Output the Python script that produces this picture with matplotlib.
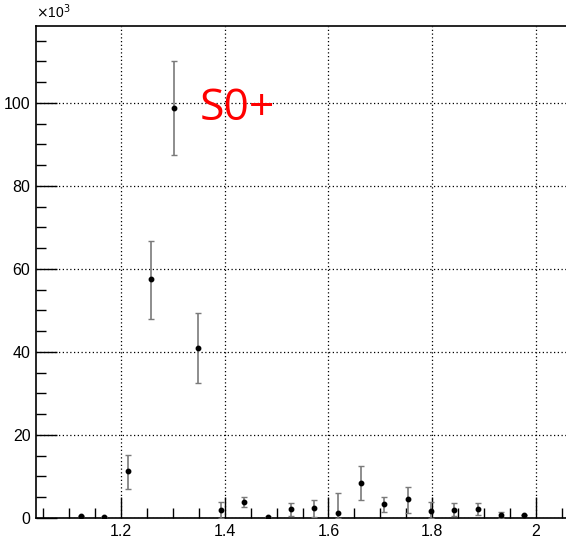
import numpy as np
import matplotlib.pyplot as plt
from matplotlib.ticker import MultipleLocator

# bin centres and counts (in units of 10^3)
mass = [1.1225, 1.1675, 1.2125, 1.2575, 1.3025, 1.3475, 1.3925, 1.4375,
        1.4825, 1.5275, 1.5725, 1.6175, 1.6625, 1.7075, 1.7525, 1.7975,
        1.8425, 1.8875, 1.9325, 1.9775]
counts = [0.5, 0.3, 11.2, 57.6, 98.8, 41.0, 2.0, 3.9, 0.2, 2.1,
          2.3, 1.1, 8.4, 3.3, 4.5, 1.7, 2.0, 2.25, 0.7, 0.8]
err_up = [0.0, 0.0, 4.0, 9.1, 11.2, 8.4, 1.9, 1.2, 0.0, 1.6,
          2.0, 5.0, 4.1, 1.8, 3.0, 2.2, 1.6, 1.45, 0.8, 0.0]
err_lo = [0.0, 0.0, 4.2, 9.6, 11.3, 8.5, 2.0, 1.25, 0.0, 1.7,
          2.0, 1.1, 4.1, 1.9, 3.4, 1.7, 1.6, 1.65, 0.7, 0.0]

plt.rcParams['font.family'] = ['Liberation Sans', 'DejaVu Sans']

fig = plt.figure(figsize=(5.66, 5.46), dpi=100)
ax = fig.add_axes([0.0636, 0.0513, 0.94, 0.9011])

ax.errorbar(mass, counts, yerr=[err_lo, err_up], fmt='o', ms=3.2,
            color='black', ecolor='#7a7a7a', elinewidth=1.2,
            capsize=2.5, capthick=1.0, zorder=3)
# caps drawn in black
for cap in ax.containers[0].lines[1]:
    cap.set_color('black')

ax.set_xlim(1.036, 2.062)
ax.set_ylim(0, 118.5)

ax.xaxis.set_major_locator(MultipleLocator(0.2))
ax.xaxis.set_minor_locator(MultipleLocator(0.05))
ax.yaxis.set_major_locator(MultipleLocator(20))
ax.yaxis.set_minor_locator(MultipleLocator(5))
ax.xaxis.set_major_formatter(plt.FuncFormatter(lambda v, p: f'{v:g}'))

ax.tick_params(which='major', direction='in', length=15, width=1.0,
               labelsize=11.5, pad=4)
ax.tick_params(which='minor', direction='in', length=7.5, width=1.0)

ax.grid(True, which='major', color='black', linestyle=(0, (1, 2)),
        linewidth=0.9)

ax.spines['right'].set_visible(False)
for s in ['left', 'bottom', 'top']:
    ax.spines[s].set_linewidth(1.2)

fig.text(0.0636, 0.962, r'$\times$10$^{3}$', fontsize=10, ha='left',
         va='bottom')

ax.text(1.3515, 98.5, 'S0+', color='red', fontsize=32,
        family=['Open Sans', 'DejaVu Sans'], ha='left', va='center')

fig.savefig('out.png', dpi=100)
